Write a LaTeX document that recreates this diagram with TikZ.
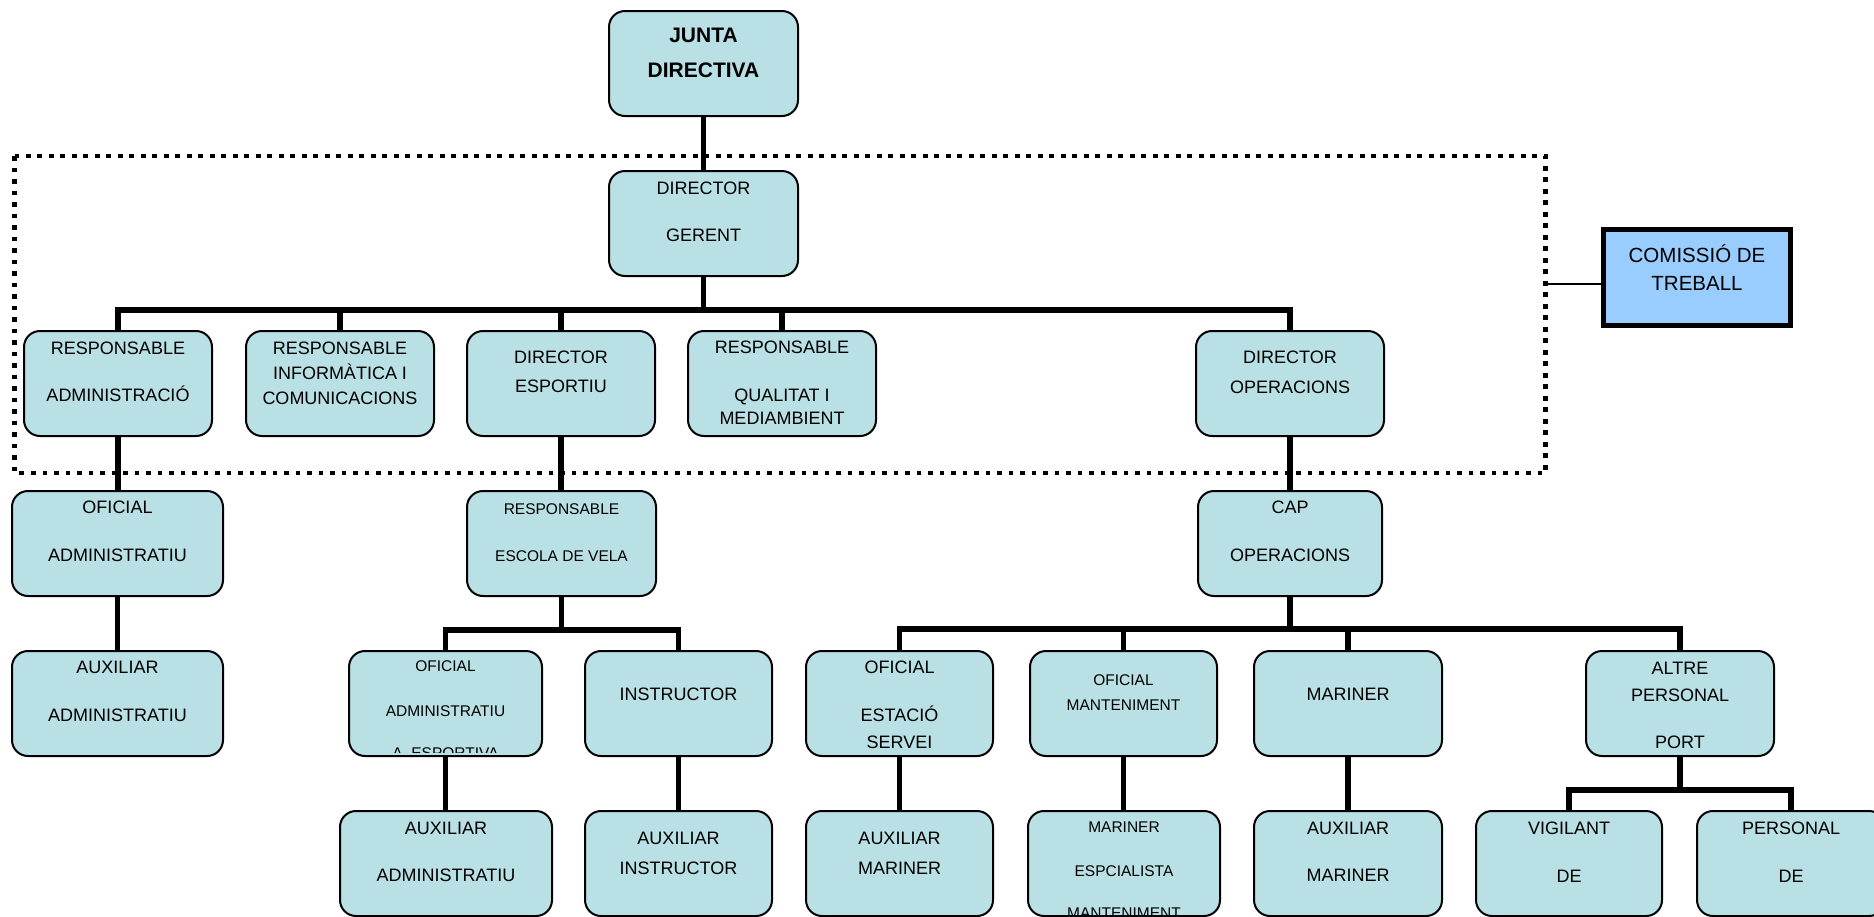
\documentclass[tikz,border=0pt]{standalone}
\usepackage{fontspec}
\setmainfont{Liberation Sans}
\definecolor{boxfill}{RGB}{185,224,228}
\definecolor{cmfill}{RGB}{153,204,255}
\begin{document}
\begin{tikzpicture}[x=1pt,y=-1pt,
  box/.style={draw=black, line width=2pt, fill=boxfill, rounded corners=16pt, inner sep=0pt, minimum height=105pt},
  conn/.style={line width=5.5pt},
  t/.style={anchor=base, inner sep=0pt, font=\fontsize{18}{20}\selectfont},
  ts/.style={anchor=base, inner sep=0pt, font=\fontsize{15.5}{18}\selectfont},
  tb/.style={anchor=base, inner sep=0pt, font=\fontsize{21}{24}\selectfont\bfseries},
  tc/.style={anchor=base, inner sep=0pt, font=\fontsize{20.5}{23}\selectfont},
  dotbox/.style={line width=4.7pt, dash pattern=on 4.7pt off 6.8pt},
]
\clip (0,0) rectangle (1874,916);
% dotted frame
\draw[dotbox] (14.5,156) rectangle (1545.5,473);
\coordinate (dotR) at (1545.5,284);

% boxes
\node[box, minimum width=189pt] (ju) at (703.5,63.5) {};
\node[box, minimum width=189pt] (dg) at (703.5,223.5) {};
\node[box, minimum width=188pt] (ra) at (118,383.5) {};
\node[box, minimum width=188pt] (ri) at (340,383.5) {};
\node[box, minimum width=188pt] (de) at (561,383.5) {};
\node[box, minimum width=188pt] (rq) at (782,383.5) {};
\node[box, minimum width=188pt] (do) at (1290,383.5) {};
\node[box, minimum width=211pt] (oa) at (117.5,543.5) {};
\node[box, minimum width=189pt] (ev) at (561.5,543.5) {};
\node[box, minimum width=184pt] (co) at (1290,543.5) {};
\node[box, minimum width=211pt] (aa1) at (117.5,703.5) {};
\node[box, minimum width=193pt] (oe) at (445.5,703.5) {};
\node[box, minimum width=187pt] (in) at (678.5,703.5) {};
\node[box, minimum width=187pt] (es) at (899.5,703.5) {};
\node[box, minimum width=187pt] (om) at (1123.5,703.5) {};
\node[box, minimum width=188pt] (ma) at (1348,703.5) {};
\node[box, minimum width=188pt] (ap) at (1680,703.5) {};
\node[box, minimum width=212pt] (aa2) at (446,863.5) {};
\node[box, minimum width=187pt] (ai) at (678.5,863.5) {};
\node[box, minimum width=187pt] (am1) at (899.5,863.5) {};
\node[box, minimum width=192pt] (me) at (1124,863.5) {};
\node[box, minimum width=188pt] (am2) at (1348,863.5) {};
\node[box, minimum width=186pt] (vd) at (1569,863.5) {};
\node[box, minimum width=188pt] (pd) at (1791,863.5) {};
\node[draw=black, line width=5pt, fill=cmfill, minimum width=187pt, minimum height=96pt, inner sep=0pt] (cm) at (1697,277.5) {};

% connectors
\draw[conn] (ju.south) -- (dg.north);
\foreach \k in {ra,ri,de,rq,do} \draw[conn] (dg.south) -- ++(0,33) -| (\k.north);
\draw[conn] (ra.south) -- (ra.south |- oa.north);
\draw[conn] (de.south) -- (de.south |- ev.north);
\draw[conn] (do.south) -- (do.south |- co.north);
\draw[conn] (oa.south) -- (oa.south |- aa1.north);
\foreach \k in {oe,in} \draw[conn] (ev.south) -- ++(0,33) -| (\k.north);
\foreach \k in {es,om,ma,ap} \draw[conn] (co.south) -- ++(0,32) -| (\k.north);
\draw[conn] (oe.south) -- (oe.south |- aa2.north);
\draw[conn] (in.south) -- (in.south |- ai.north);
\draw[conn] (es.south) -- (es.south |- am1.north);
\draw[conn] (om.south) -- (om.south |- me.north);
\draw[conn] (ma.south) -- (ma.south |- am2.north);
\foreach \k in {vd,pd} \draw[conn] (ap.south) -- ++(0,33) -| (\k.north);
\draw[line width=1.5pt] (dotR) -- (dotR -| cm.west);

% texts
\node[tb] (ju1) at (703.5,42.5) {JUNTA};
\node[tb] (ju2) at (703.5,77.5) {DIRECTIVA};
\node[t] (dg1) at (703.5,194.5) {DIRECTOR};
\node[t] (dg2) at (703.5,241.5) {GERENT};
\node[t] (ra1) at (118,354.5) {RESPONSABLE};
\node[t] (ra2) at (118,401.5) {ADMINISTRACIÓ};
\node[t] (ri1) at (340,354.5) {RESPONSABLE};
\node[t] (ri2) at (340,379.5) {INFORMÀTICA I};
\node[t] (ri3) at (340,404.5) {COMUNICACIONS};
\node[t] (de1) at (561,363.5) {DIRECTOR};
\node[t] (de2) at (561,392.5) {ESPORTIU};
\node[t] (rq1) at (782,353.5) {RESPONSABLE};
\node[t] (rq2) at (782,401.5) {QUALITAT I};
\node[t] (rq3) at (782,424.5) {MEDIAMBIENT};
\node[t] (do1) at (1290,363.5) {DIRECTOR};
\node[t] (do2) at (1290,393.5) {OPERACIONS};
\node[tc] (cm1) at (1697,262.4) {COMISSIÓ DE};
\node[tc] (cm2) at (1697,290.4) {TREBALL};
\node[t] (oa1) at (117.5,513.5) {OFICIAL};
\node[t] (oa2) at (117.5,561.5) {ADMINISTRATIU};
\node[ts] (ev1) at (561.5,514.6) {RESPONSABLE};
\node[ts] (ev2) at (561.5,561.6) {ESCOLA DE VELA};
\node[t] (co1) at (1290,513.5) {CAP};
\node[t] (co2) at (1290,561.5) {OPERACIONS};
\node[t] (aa11) at (117.5,673.5) {AUXILIAR};
\node[t] (aa12) at (117.5,721.5) {ADMINISTRATIU};
\node[ts] (oe1) at (445.5,671.6) {OFICIAL};
\node[ts] (oe2) at (445.5,716.6) {ADMINISTRATIU};
\begin{scope}
\clip (348,740) rectangle (543,752);
\node[ts] (oe3) at (445.5,758.6) {A. ESPORTIVA};
\end{scope}
\node[t] (in1) at (678.5,700.5) {INSTRUCTOR};
\node[t] (es1) at (899.5,673.5) {OFICIAL};
\node[t] (es2) at (899.5,721.5) {ESTACIÓ};
\node[t] (es3) at (899.5,748.5) {SERVEI};
\node[ts] (om1) at (1123.5,685.6) {OFICIAL};
\node[ts] (om2) at (1123.5,710.6) {MANTENIMENT};
\node[t] (ma1) at (1348,700.5) {MARINER};
\node[t] (ap1) at (1680,674.5) {ALTRE};
\node[t] (ap2) at (1680,701.5) {PERSONAL};
\node[t] (ap3) at (1680,748.5) {PORT};
\node[t] (aa21) at (446,834.5) {AUXILIAR};
\node[t] (aa22) at (446,881.5) {ADMINISTRATIU};
\node[t] (ai1) at (678.5,844.5) {AUXILIAR};
\node[t] (ai2) at (678.5,874.5) {INSTRUCTOR};
\node[t] (am11) at (899.5,844.5) {AUXILIAR};
\node[t] (am12) at (899.5,874.5) {MARINER};
\node[ts] (me1) at (1124,832.6) {MARINER};
\node[ts] (me2) at (1124,876.6) {ESPCIALISTA};
\begin{scope}
\clip (1027,895) rectangle (1221,914);
\node[ts] (me3) at (1124,918.6) {MANTENIMENT};
\end{scope}
\node[t] (am21) at (1348,834.5) {AUXILIAR};
\node[t] (am22) at (1348,881.5) {MARINER};
\node[t] (vd1) at (1569,834.5) {VIGILANT};
\node[t] (vd2) at (1569,882.5) {DE};
\node[t] (pd1) at (1791,834.5) {PERSONAL};
\node[t] (pd2) at (1791,882.5) {DE};
\end{tikzpicture}
\end{document}
